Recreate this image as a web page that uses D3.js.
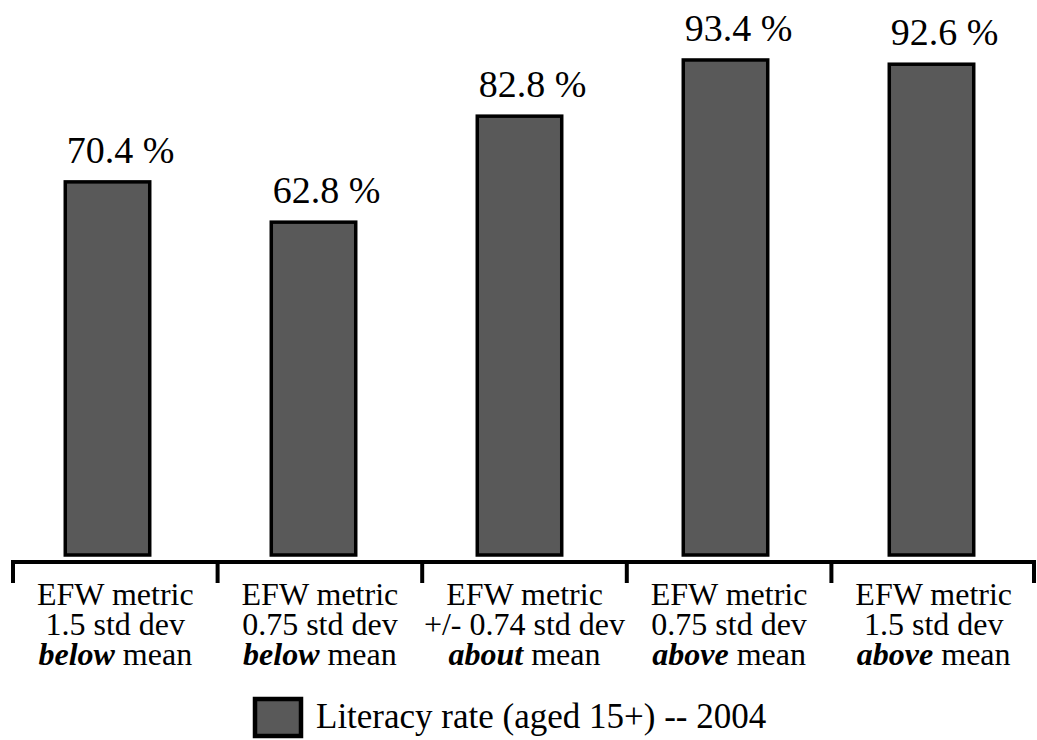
<!DOCTYPE html>
<html>
<head>
<meta charset="utf-8">
<script src="https://cdn.jsdelivr.net/npm/d3@7"></script>
<style>
  body { margin: 0; background: #fff; }
  svg { display: block; }
</style>
</head>
<body>
<svg id="chart" width="1037" height="740"></svg>
<script>
// Literacy rate by economic-freedom group
const groups = ["g1", "g2", "g3", "g4", "g5"];
const lineOne = ["EFW metric", "EFW metric", "EFW metric", "EFW metric", "EFW metric"];
const lineTwo = ["1.5 std dev", "0.75 std dev", "+/- 0.74 std dev", "0.75 std dev", "1.5 std dev"];
const lineThreeBold = ["below", "below", "about", "above", "above"];
const lineThreeRest = [" mean", " mean", " mean", " mean", " mean"];
const literacy = [70.4, 62.8, 82.8, 93.4, 92.6];
const seriesName = "Literacy rate (aged 15+) -- 2004";

const serif = "'Liberation Serif', 'Times New Roman', 'DejaVu Serif', serif";
const svg = d3.select("#chart");
const barFill = "#595959";

const x = d3.scaleBand().domain(groups).range([4.5, 1034.5]).paddingInner(0.59).paddingOuter(0.295);
const xAxis = d3.scaleBand().domain(groups).range([13, 1036]);
const y = d3.scaleLinear().domain([0, 100]).range([555, 25]);

// center a start-anchored text on cx
function centerOn(sel, cx) {
  sel.each(function (d, i) {
    const w = this.getComputedTextLength();
    d3.select(this).attr("x", cx(d, i) - w / 2);
  });
}

// bars
svg.selectAll("rect.bar")
  .data(literacy)
  .join("rect")
  .attr("class", "bar")
  .attr("x", (d, i) => x(groups[i]))
  .attr("width", x.bandwidth())
  .attr("y", d => y(d))
  .attr("height", d => y(0) - y(d))
  .attr("fill", barFill)
  .attr("stroke", "#000")
  .attr("stroke-width", 3.5);

// value labels
const vals = svg.selectAll("text.val")
  .data(literacy)
  .join("text")
  .attr("class", "val")
  .attr("y", d => y(d) - 19)
  .attr("font-family", serif)
  .attr("font-size", 38)
  .text(d => d.toFixed(1) + " %");
centerOn(vals, (d, i) => x(groups[i]) + x.bandwidth() / 2 + 13);

// bracket axis
const axisY = 562;
svg.append("line")
  .attr("x1", xAxis.range()[0]).attr("x2", xAxis.range()[1])
  .attr("y1", axisY).attr("y2", axisY)
  .attr("stroke", "#000").attr("stroke-width", 4);

const tickXs = groups.map(g => xAxis(g)).concat([xAxis.range()[1] - 2]);
svg.selectAll("line.tick")
  .data(tickXs)
  .join("line")
  .attr("class", "tick")
  .attr("x1", d => d).attr("x2", d => d)
  .attr("y1", axisY - 2).attr("y2", axisY + 21)
  .attr("stroke", "#000").attr("stroke-width", 4);

// category labels (three lines each)
const catCenter = g => xAxis(g) + xAxis.bandwidth() / 2;
const l1 = svg.selectAll("text.cat1")
  .data(groups).join("text")
  .attr("class", "cat1")
  .attr("font-family", serif).attr("font-size", 32)
  .attr("y", 605)
  .text((g, i) => lineOne[i]);
centerOn(l1, catCenter);

const l2 = svg.selectAll("text.cat2")
  .data(groups).join("text")
  .attr("class", "cat2")
  .attr("font-family", serif).attr("font-size", 32)
  .attr("y", 635)
  .text((g, i) => lineTwo[i]);
centerOn(l2, catCenter);

const l3 = svg.selectAll("text.cat3")
  .data(groups).join("text")
  .attr("class", "cat3")
  .attr("font-family", serif).attr("font-size", 32)
  .attr("y", 665);
l3.append("tspan")
  .attr("font-weight", "bold").attr("font-style", "italic")
  .text((g, i) => lineThreeBold[i]);
l3.append("tspan")
  .text((g, i) => lineThreeRest[i]);
centerOn(l3, catCenter);

// legend
const legend = svg.append("g").attr("transform", "translate(255,699)");
legend.append("rect")
  .attr("x", 0).attr("y", 0).attr("width", 46).attr("height", 37)
  .attr("fill", barFill).attr("stroke", "#000").attr("stroke-width", 4.5);
legend.append("text")
  .attr("x", 61).attr("y", 29)
  .attr("font-family", serif)
  .attr("font-size", 35)
  .text(seriesName);
</script>
</body>
</html>
